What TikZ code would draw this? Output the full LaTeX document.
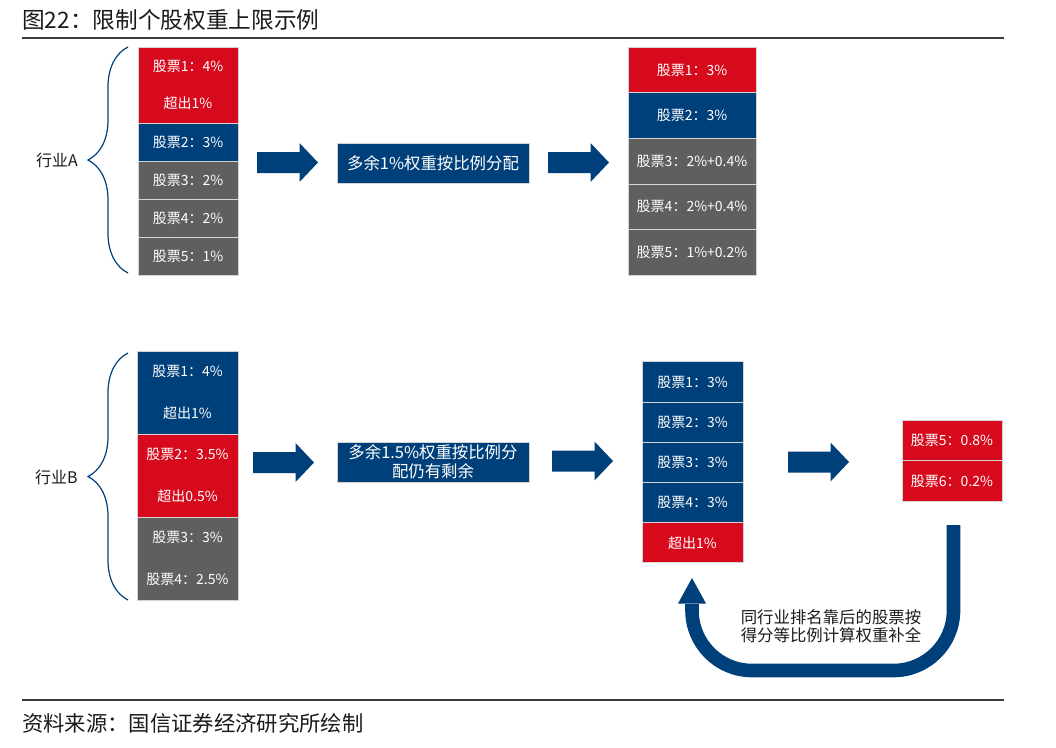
\documentclass[tikz,border=0pt]{standalone}
\usepackage{fontspec}
\setmainfont{Noto Sans CJK SC}
\usepackage{xcolor}
\usetikzlibrary{decorations.pathreplacing}
\definecolor{navy}{HTML}{00407A}
\definecolor{ared}{HTML}{D60A1C}
\definecolor{slate}{HTML}{5F5F5F}
\definecolor{edge}{HTML}{D4D4D4}
\definecolor{ink}{HTML}{1A1A1A}
\tikzset{
  cell/.style={draw=edge,line width=0.75pt,text=white,inner sep=0pt,align=center,
    font=\fontsize{10.5pt}{12pt}\selectfont},
  linegap/.style={font=\fontsize{10.5pt}{#1}\selectfont},
  banner/.style={draw=edge,line width=0.75pt,fill=navy,text=white,inner sep=0pt,align=center,
    font=\fontsize{12.3pt}{14.25pt}\selectfont,minimum width=144pt,minimum height=30pt},
  grp/.style={draw=navy,line width=0.9pt,decorate,decoration={brace,amplitude=30pt}},
  grplabel/.style={anchor=east,inner sep=0pt,text=ink,font=\fontsize{12pt}{14pt}\selectfont},
  rule/.style={draw=ink!85,line width=1.1pt},
}
\newcommand{\cell}[6][]{%
  \node[cell,#1,minimum width={#4*0.75pt},minimum height={#5*0.75pt}] (#2) at (#3) {#6};
}
\newcommand{\blockarrow}[3]{%
  \fill[navy] (#1,#3-10.5) -- (#2-18.5,#3-10.5) -- (#2-18.5,#3-19.5) -- (#2,#3)
    -- (#2-18.5,#3+19.5) -- (#2-18.5,#3+10.5) -- (#1,#3+10.5) -- cycle;
}

\begin{document}
\begin{tikzpicture}[x=0.75pt,y=-0.75pt]
\useasboundingbox (0,0) rectangle (1056,747);
\node[anchor=base west,inner sep=0pt,text=ink,font=\fontsize{17pt}{20pt}\selectfont] (caption) at (22,28) {图22：限制个股权重上限示例};
\draw[rule] (22,38) -- (1004,38);
\draw[rule] (22,700) -- (1004,700);
\node[anchor=base west,inner sep=0pt,text=ink,font=\fontsize{16pt}{20pt}\selectfont] (source) at (22,731) {资料来源：国信证券经济研究所绘制};

\draw[grp] (128,273) -- (128,47);
\node[grplabel] (inda) at (78,160) {行业A};
\cell[fill=ared,linegap=27.75pt]{a1}{188,85}{100}{76}{股票1：4\%\\超出1\%}
\cell[fill=navy]{a2}{188,142}{100}{38}{股票2：3\%}
\cell[fill=slate]{a3}{188,180}{100}{38}{股票3：2\%}
\cell[fill=slate]{a4}{188,218}{100}{38}{股票4：2\%}
\cell[fill=slate]{a5}{188,256}{100}{38}{股票5：1\%}
\blockarrow{257}{318}{162.5}
\node[banner] (splita) at (433,163) {多余1\%权重按比例分配};
\blockarrow{548}{609}{162.5}
\cell[fill=ared]{r1}{692,70}{128}{45.6}{股票1：3\%}
\cell[fill=navy]{r2}{692,115.6}{128}{45.6}{股票2：3\%}
\cell[fill=slate]{r3}{692,161.2}{128}{45.6}{股票3：2\%+0.4\%}
\cell[fill=slate]{r4}{692,206.8}{128}{45.6}{股票4：2\%+0.4\%}
\cell[fill=slate]{r5}{692,252.4}{128}{45.6}{股票5：1\%+0.2\%}

\draw[grp] (128,600) -- (128,353);
\node[grplabel] (indb) at (78,477) {行业B};
\cell[fill=navy,linegap=31.5pt]{b1}{187.5,392.5}{101}{83}{股票1：4\%\\超出1\%}
\cell[fill=ared,linegap=31.5pt]{b2}{187.5,475.5}{101}{83}{股票2：3.5\%\\超出0.5\%}
\cell[fill=slate,linegap=31.5pt]{b3}{187.5,558.5}{101}{83}{股票3：3\%\\股票4：2.5\%}
\blockarrow{253}{314}{462.5}
\node[banner] (splitb) at (433,462) {多余1.5\%权重按比例分\\配仍有剩余};
\blockarrow{552}{613}{461}
\cell[fill=navy]{c1}{692.5,382}{101}{40.2}{股票1：3\%}
\cell[fill=navy]{c2}{692.5,422.2}{101}{40.2}{股票2：3\%}
\cell[fill=navy]{c3}{692.5,462.4}{101}{40.2}{股票3：3\%}
\cell[fill=navy]{c4}{692.5,502.6}{101}{40.2}{股票4：3\%}
\cell[fill=ared]{c5}{692.5,542.8}{101}{40.2}{超出1\%}
\blockarrow{788}{849}{462}
\cell[fill=ared]{d1}{952,440.5}{100}{40.5}{股票5：0.8\%}
\cell[fill=ared]{d2}{952,481}{100}{40.5}{股票6：0.2\%}

\coordinate (ustart) at (953.5,525);
\coordinate (ubend) at (692,604);
\coordinate (utip) at (692,578);
\draw[navy,line width=10.2pt,rounded corners=45pt] (ustart) |- (692,670.5) -- (ubend);
\fill[navy] (678,603.5) -- (706,603.5) -- (utip) -- cycle;
\node[align=center,inner sep=0pt,text=ink,font=\fontsize{12.3pt}{13.5pt}\selectfont] (uhint) at (831,626) {同行业排名靠后的股票按\\得分等比例计算权重补全};
\end{tikzpicture}
\end{document}
